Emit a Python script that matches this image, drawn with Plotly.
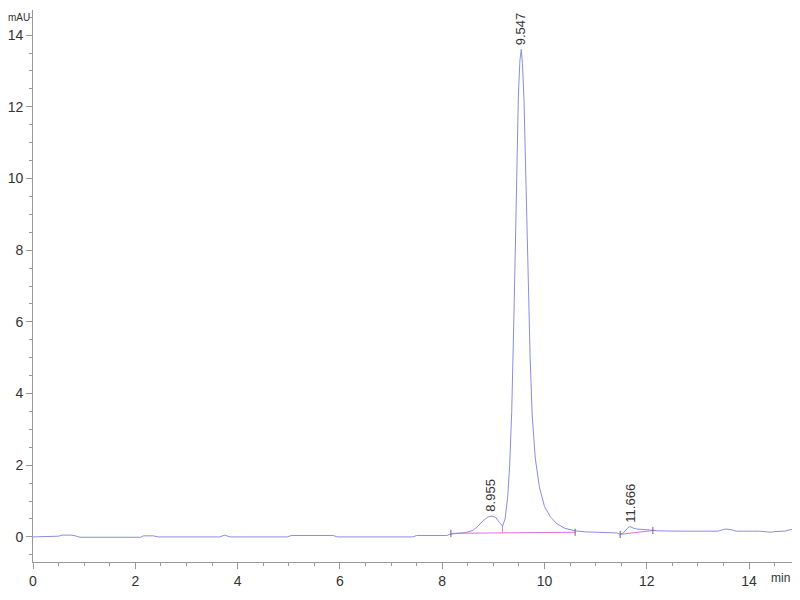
import plotly.graph_objects as go

# chromatogram trace (min, mAU)
time = [0.0, 0.4, 0.5, 0.57, 0.76, 0.85, 0.92, 1.5, 2.1, 2.16, 2.35, 2.45, 3.0, 3.65, 3.75, 3.85,
        4.5, 4.97, 5.05, 5.87, 5.95, 6.7, 7.43, 7.5, 8.09, 8.17, 8.3, 8.45, 8.6, 8.7, 8.8, 8.9,
        8.97, 9.05, 9.12, 9.18, 9.23, 9.28, 9.32, 9.36, 9.41, 9.45, 9.49, 9.52, 9.547, 9.57, 9.6,
        9.64, 9.68, 9.72, 9.76, 9.82, 9.9, 10.0, 10.12, 10.25, 10.4, 10.6, 10.8, 11.0, 11.3, 11.42,
        11.48, 11.55, 11.62, 11.67, 11.73, 11.8, 12.0, 12.2, 12.6, 13.0, 13.4, 13.48, 13.55, 13.65,
        13.75, 14.2, 14.38, 14.43, 14.5, 14.7, 14.8, 15.0]
signal = [0.0, 0.0, 0.02, 0.05, 0.05, 0.02, -0.01, -0.01, -0.01, 0.03, 0.03, 0.0, 0.0, 0.0, 0.05, 0.0,
          0.0, 0.0, 0.04, 0.04, 0.0, 0.0, 0.0, 0.04, 0.04, 0.08, 0.1, 0.12, 0.18, 0.3, 0.45, 0.56,
          0.58, 0.54, 0.4, 0.3, 0.5, 1.1, 2.0, 3.5, 6.6, 9.5, 12.3, 13.3, 13.6, 13.2, 12.2,
          9.8, 7.0, 5.0, 3.4, 2.2, 1.4, 0.85, 0.55, 0.36, 0.24, 0.17, 0.14, 0.13, 0.13, 0.11,
          0.07, 0.12, 0.24, 0.29, 0.25, 0.22, 0.2, 0.17, 0.16, 0.16, 0.16, 0.2, 0.22, 0.2,
          0.16, 0.16, 0.15, 0.13, 0.15, 0.16, 0.2, 0.23]

# integration baselines
base1_t = [8.17, 10.6]
base1_y = [0.1, 0.13]
drop_t = [9.18, 9.18]
drop_y = [0.11, 0.3]
base2_t = [11.48, 12.12]
base2_y = [0.07, 0.18]

# integration event marks
events = [8.17, 10.6, 11.48, 12.12]
event_y = [0.1, 0.13, 0.07, 0.18]

# peak labels
peak_rt = [8.955, 9.547, 11.666]
peak_top = [0.58, 13.6, 0.29]
peak_txt = ["8.955", "9.547", "11.666"]

line_col = "rgb(140,140,225)"
base_col = "rgb(225,110,225)"
txt_col = "#333333"
font_name = "Liberation Sans, Arial"

fig = go.Figure()
fig.add_trace(go.Scatter(x=base1_t, y=base1_y, mode="lines", line=dict(color=base_col, width=1)))
fig.add_trace(go.Scatter(x=drop_t, y=drop_y, mode="lines", line=dict(color=base_col, width=1)))
fig.add_trace(go.Scatter(x=base2_t, y=base2_y, mode="lines", line=dict(color=base_col, width=1)))
fig.add_trace(go.Scatter(x=time, y=signal, mode="lines", line=dict(color=line_col, width=1)))

for t, v in zip(events, event_y):
    fig.add_trace(go.Scatter(x=[t, t], y=[v - 0.1, v + 0.1], mode="lines",
                             line=dict(color="#666666", width=1)))

for t, v, s in zip(peak_rt, peak_top, peak_txt):
    fig.add_annotation(x=t, y=v, text=s, textangle=-90, showarrow=False,
                       xanchor="center", yanchor="bottom", yshift=2,
                       font=dict(family=font_name, size=13, color=txt_col))

fig.add_annotation(x=0, y=1, xref="paper", yref="paper", text="mAU", showarrow=False,
                   xanchor="right", yanchor="middle", xshift=-2, yshift=-7, borderpad=0,
                   font=dict(family=font_name, size=10, color=txt_col))
fig.add_annotation(x=1, y=0, xref="paper", yref="paper", text="min", showarrow=False,
                   xanchor="right", yanchor="top", xshift=-1, yshift=-8, borderpad=0,
                   font=dict(family=font_name, size=12, color=txt_col))

axis_common = dict(showgrid=False, zeroline=False, showline=True, linecolor="#999999",
                   linewidth=1, ticks="outside", ticklen=6, tickcolor="#999999",
                   automargin=False,
                   tickfont=dict(family=font_name, size=14, color=txt_col),
                   minor=dict(ticks="outside", ticklen=3, tickcolor="#999999", dtick=0.5))

fig.update_xaxes(range=[0, 14.84], dtick=2, tick0=0, **axis_common)
fig.update_yaxes(range=[-0.7, 14.7], dtick=2, tick0=0, **axis_common)

# the page adds an 8px body margin, so the figure is sized to fit inside it
fig.update_layout(width=784, height=584, showlegend=False,
                  margin=dict(l=25, r=0, t=2, b=30),
                  plot_bgcolor="white", paper_bgcolor="white")

fig.write_html("out.html")
